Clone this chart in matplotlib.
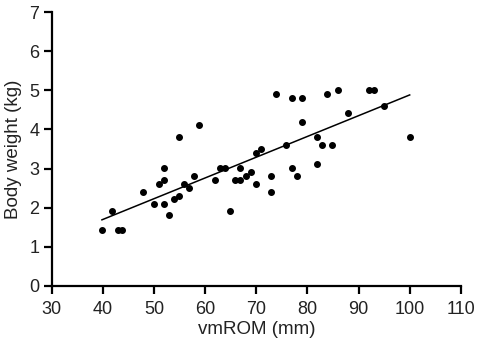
import numpy as np
import matplotlib
matplotlib.use("Agg")
import matplotlib.pyplot as plt

plt.rcParams['font.family'] = ['Liberation Sans', 'DejaVu Sans']

# vmROM (mm) and body weight (kg)
vmrom = [39.8, 41.8, 42.9, 43.8, 47.9, 50.0, 50.9, 51.9, 51.9, 51.9,
         52.9, 53.9, 54.9, 54.9, 55.8, 56.8, 57.9, 58.8, 61.9, 62.9,
         63.9, 64.8, 65.9, 66.9, 66.9, 67.9, 68.9, 69.9, 69.9, 70.9,
         72.9, 72.9, 73.9, 75.9, 76.9, 76.9, 77.9, 78.9, 78.9, 81.9,
         81.9, 82.9, 83.9, 84.9, 86.0, 88.0, 92.0, 93.0, 95.0, 100.0]
weight = [1.43, 1.92, 1.43, 1.43, 2.41, 2.10, 2.61, 3.01, 2.71, 2.10,
          1.81, 2.22, 3.81, 2.31, 2.61, 2.51, 2.81, 4.11, 2.71, 3.01,
          3.01, 1.91, 2.71, 3.01, 2.71, 2.81, 2.91, 3.40, 2.61, 3.50,
          2.81, 2.41, 4.91, 3.61, 4.80, 3.01, 2.81, 4.80, 4.20, 3.81,
          3.11, 3.61, 4.91, 3.61, 5.01, 4.42, 5.01, 5.01, 4.61, 3.81]

x = np.array(vmrom)
y = np.array(weight)
slope, intercept = np.polyfit(x, y, 1)
xl = np.array([x.min(), x.max()])

txt = '#222222'

fig = plt.figure(figsize=(4.8, 3.47), dpi=100)
ax = fig.add_axes([0.108, 0.176, 0.852, 0.789])

ax.scatter(x, y, s=16, color='black', zorder=3)
ax.plot(xl, slope * xl + intercept, color='black', linewidth=1.1)

ax.set_xlim(30, 110)
ax.set_ylim(0, 7)
ax.set_xticks(range(30, 111, 10))
ax.set_yticks(range(0, 8))
ax.set_xlabel('vmROM (mm)', fontsize=13.5, labelpad=2, color=txt)
ax.set_ylabel('Body weight (kg)', fontsize=13.5, labelpad=5, color=txt)

for s in ['top', 'right']:
    ax.spines[s].set_visible(False)
for s in ['left', 'bottom']:
    ax.spines[s].set_linewidth(1.6)
ax.tick_params(width=1.6, length=6, labelsize=13, labelcolor=txt)
ax.tick_params(axis='x', pad=5)
ax.tick_params(axis='y', pad=3)

fig.savefig('out.png', dpi=100)
